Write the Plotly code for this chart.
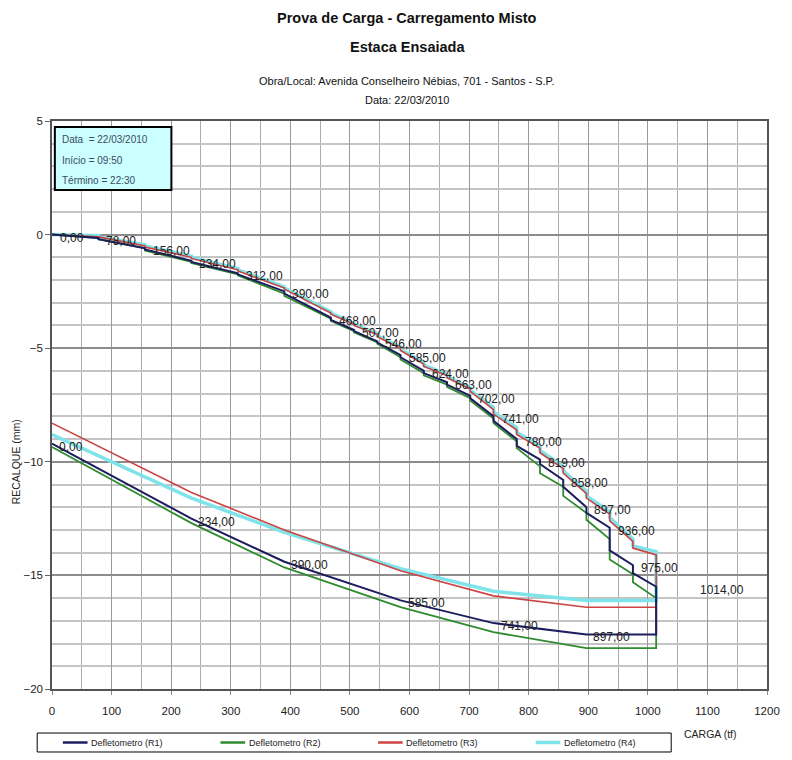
import plotly.graph_objects as go

# Estágios de carga (tf)
cargas_carregamento = [0, 78, 156, 234, 312, 390, 468, 507, 546, 585, 624,
                       663, 702, 741, 780, 819, 858, 897, 936, 975, 1014]
cargas_descarregamento = [1014, 897, 741, 585, 390, 234, 0]

# Recalques (mm): início e fim de cada estágio de carregamento
r1_inicio = [0, -0.15, -0.6, -1.15, -1.7, -2.5, -3.65, -4.2, -4.7, -5.3, -6.0,
             -6.5, -7.1, -8.0, -9.0, -9.9, -10.8, -12.0, -12.9, -14.55, -15.5]
r1_fim = [0, -0.2, -0.65, -1.2, -1.75, -2.6, -3.75, -4.25, -4.75, -5.4, -6.1,
          -6.6, -7.2, -8.2, -9.3, -10.1, -11.1, -12.25, -13.9, -14.9, -17.6]
r1_descarga = [-17.6, -17.6, -17.1, -16.1, -14.4, -12.5, -9.2]

r2_inicio = [0, -0.15, -0.6, -1.2, -1.75, -2.6, -3.7, -4.25, -4.75, -5.4, -6.1,
             -6.6, -7.2, -8.1, -9.1, -10.2, -11.1, -12.25, -13.4, -14.95, -16.0]
r2_fim = [0, -0.2, -0.7, -1.25, -1.8, -2.7, -3.8, -4.3, -4.8, -5.5, -6.2,
          -6.7, -7.3, -8.3, -9.4, -10.5, -11.5, -12.55, -14.3, -15.3, -18.2]
r2_descarga = [-18.2, -18.2, -17.5, -16.4, -14.65, -12.7, -9.35]

r3_inicio = [0, -0.1, -0.5, -1.0, -1.55, -2.35, -3.45, -3.95, -4.4, -5.0, -5.7,
             -6.2, -6.8, -7.7, -8.6, -9.4, -10.3, -11.4, -12.3, -13.5, -14.1]
r3_fim = [0, -0.1, -0.55, -1.05, -1.6, -2.4, -3.5, -4.0, -4.5, -5.1, -5.8,
          -6.3, -6.9, -7.9, -8.8, -9.6, -10.5, -11.6, -12.6, -13.8, -16.4]
r3_descarga = [-16.4, -16.4, -15.9, -14.8, -13.0, -11.35, -8.3]

r4_inicio = [0, -0.05, -0.45, -0.95, -1.5, -2.3, -3.4, -3.9, -4.35, -4.95, -5.65,
             -6.15, -6.75, -7.6, -8.5, -9.3, -10.2, -11.3, -12.2, -13.4, -13.95]
r4_fim = [0, -0.1, -0.5, -1.0, -1.55, -2.35, -3.45, -3.95, -4.45, -5.05, -5.75,
          -6.25, -6.85, -7.8, -8.7, -9.5, -10.4, -11.5, -12.45, -13.7, -16.1]
r4_descarga = [-16.1, -16.1, -15.7, -14.7, -13.1, -11.6, -8.8]

nomes = ["Defletometro (R1)", "Defletometro (R2)",
         "Defletometro (R3)", "Defletometro (R4)"]
cores = ["#1c1c5e", "#2e8b2e", "#cc4444", "#7fe3ea"]
larguras = [2.0, 1.8, 1.6, 3.5]

FONTE = "Liberation Sans, Arial, sans-serif"


def caminho(inicio, fim, descarga):
    xs, ys = [], []
    for c, a, b in zip(cargas_carregamento, inicio, fim):
        xs += [c, c]
        ys += [a, b]
    xs += cargas_descarregamento[1:]
    ys += descarga[1:]
    return xs, ys


def rotulo(v):
    return f"{v:.2f}".replace(".", ",")


fig = go.Figure()

dados = [
    (r1_inicio, r1_fim, r1_descarga),
    (r2_inicio, r2_fim, r2_descarga),
    (r3_inicio, r3_fim, r3_descarga),
    (r4_inicio, r4_fim, r4_descarga),
]
# R4 por baixo, R1 por cima
for i in [3, 2, 1, 0]:
    xs, ys = caminho(*dados[i])
    fig.add_trace(go.Scatter(x=xs, y=ys, mode="lines", name=nomes[i],
                             line=dict(color=cores[i], width=larguras[i]),
                             showlegend=False, hoverinfo="skip"))

anots = []
shapes = []
# rótulos de carga no carregamento (sobre R1)
for c, v in zip(cargas_carregamento, r1_inicio):
    desloc = 42 if c == max(cargas_carregamento) else 6
    anots.append(dict(x=c, y=v, xref="x", yref="y", text=rotulo(c),
                      showarrow=False, xanchor="left", yanchor="middle",
                      xshift=desloc, yshift=-3,
                      font=dict(family=FONTE, size=12, color="#222")))
# rótulos de carga no descarregamento (sobre R1)
for c, v in zip(cargas_descarregamento[1:], r1_descarga[1:]):
    anots.append(dict(x=c, y=v, xref="x", yref="y", text=rotulo(c),
                      showarrow=False, xanchor="left", yanchor="middle",
                      xshift=5, yshift=-3,
                      font=dict(family=FONTE, size=12, color="#222")))

# títulos
titulos = [
    ("Prova de Carga - Carregamento Misto", 1.181, 14.5, True),
    ("Estaca Ensaiada", 1.130, 14.5, True),
    ("Obra/Local: Avenida Conselheiro Nébias, 701 - Santos - S.P.", 1.0704, 11, False),
    ("Data: 22/03/2010", 1.037, 11, False),
]
for txt, yy, tam, negrito in titulos:
    anots.append(dict(x=0.497, y=yy, xref="paper", yref="paper",
                      text=f"<b>{txt}</b>" if negrito else txt,
                      showarrow=False, xanchor="center", yanchor="middle",
                      font=dict(family=FONTE, size=tam, color="#111")))

# quadro de informações
shapes.append(dict(type="rect", xref="paper", yref="paper",
                   x0=0.004, x1=0.167, y0=0.8785, y1=0.9894,
                   fillcolor="#ccffff", line=dict(color="black", width=2),
                   layer="above"))
info = ["Data  = 22/03/2010", "Início = 09:50", "Término = 22:30"]
for txt, yy in zip(info, [0.968, 0.931, 0.896]):
    anots.append(dict(x=0.011, y=yy, xref="paper", yref="paper", text=txt,
                      showarrow=False, xanchor="left", yanchor="middle",
                      font=dict(family=FONTE, size=10, color="#3a4a5e")))

# títulos dos eixos
anots.append(dict(x=-0.051, y=0.40, xref="paper", yref="paper",
                  text="RECALQUE (mm)", textangle=-90, showarrow=False,
                  xanchor="center", yanchor="middle",
                  font=dict(family=FONTE, size=10.5, color="#222")))
anots.append(dict(x=0.961, y=-0.0933, xref="paper", yref="paper",
                  text="CARGA (tf)", showarrow=False,
                  font=dict(family=FONTE, size=10.5, color="#222")))

# legenda desenhada sob o gráfico
shapes.append(dict(type="rect", xref="paper", yref="paper",
                   x0=-0.0207, x1=0.866, y0=-0.1109, y1=-0.0775,
                   fillcolor="white", line=dict(color="black", width=1)))
y_leg = -0.0942
for k in range(4):
    x0 = 0.0152 + k * 0.2204
    shapes.append(dict(type="line", xref="paper", yref="paper",
                       x0=x0, x1=x0 + 0.0345, y0=y_leg, y1=y_leg,
                       line=dict(color=cores[k], width=2.5 if k < 3 else 3.5)))
    anots.append(dict(x=x0 + 0.0365, y=y_leg, xref="paper", yref="paper",
                      text=nomes[k], showarrow=False, xanchor="left",
                      yanchor="middle",
                      font=dict(family=FONTE, size=9, color="#222")))

fig.update_layout(
    width=792, height=760,
    margin=dict(l=52, r=16, t=121, b=71),
    paper_bgcolor="white", plot_bgcolor="white",
    font=dict(family=FONTE, size=12, color="#222"),
    annotations=anots,
    shapes=shapes,
    showlegend=False,
)

fig.update_xaxes(range=[0, 1200], dtick=100, tick0=0,
                 showgrid=True, gridcolor="#9a9a9a", gridwidth=1,
                 minor=dict(dtick=50, showgrid=True, gridcolor="#ababab",
                            gridwidth=1),
                 showline=True, linecolor="#555", linewidth=1.5, mirror=True,
                 ticks="outside", ticklen=4, tickcolor="#888",
                 ticklabelstandoff=6, zeroline=False,
                 tickfont=dict(family=FONTE, size=11.5, color="#222"))
fig.update_yaxes(range=[-20, 5], dtick=5, tick0=0,
                 showgrid=True, gridcolor="#8c8c8c", gridwidth=2,
                 minor=dict(dtick=1, showgrid=True, gridcolor="#c4c4c4",
                            gridwidth=1.5),
                 showline=True, linecolor="#555", linewidth=1.5, mirror=True,
                 ticks="outside", ticklen=5, tickcolor="#666",
                 zeroline=False,
                 tickfont=dict(family=FONTE, size=11.5, color="#222"))

fig.write_html("out.html")
